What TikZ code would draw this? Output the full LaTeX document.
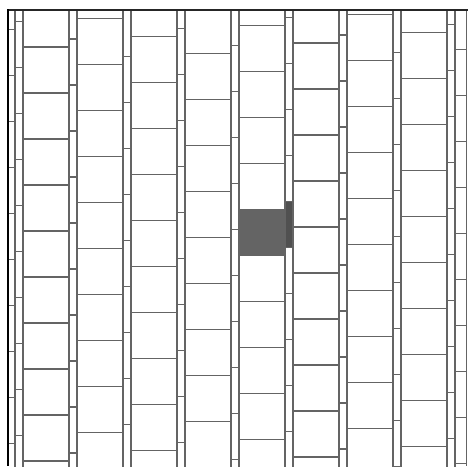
\documentclass[tikz,border=0pt]{standalone}
\definecolor{ln}{RGB}{100,100,100}
\definecolor{cellfill}{RGB}{100,100,100}
\definecolor{cellfilldark}{RGB}{80,80,80}
\begin{document}
\begin{tikzpicture}[x=1pt,y=-1pt,
  gridline/.style={draw=ln, line width=1.05pt},
  frameline/.style={draw=black!85, line width=1.8pt}]
\useasboundingbox (0,0) rectangle (468,466);
\begin{scope}
  \clip (8,10) rectangle (466,466);
  \fill[cellfill] (239,209.4) rectangle (285,255.4);
  \fill[cellfilldark] (285,201.4) rectangle (293,247.4);
  \foreach \k in {-1,...,8}{
    \pgfmathsetmacro{\xa}{23+54*\k}
    \pgfmathsetmacro{\xb}{69+54*\k}
    \pgfmathsetmacro{\xc}{77+54*\k}
    \foreach \n in {-4,...,11}{
      \pgfmathsetmacro{\yw}{1+17.6*\k+46*\n}
      \pgfmathsetmacro{\yn}{\yw-8}
      \draw[gridline] (\xa,\yw) -- (\xb,\yw);
      \draw[gridline] (\xb,\yn) -- (\xc,\yn);
    }
    \draw[gridline] (\xb,0) -- (\xb,470);
    \draw[gridline] (\xc,0) -- (\xc,470);
  }
\end{scope}
\draw[ln, line width=0.8pt] (466,10) -- (466,466);
\draw[frameline] (468,10) -- (8,10);
\draw[black, line width=2.4pt] (8,9.1) -- (8,466);
\end{tikzpicture}
\end{document}
